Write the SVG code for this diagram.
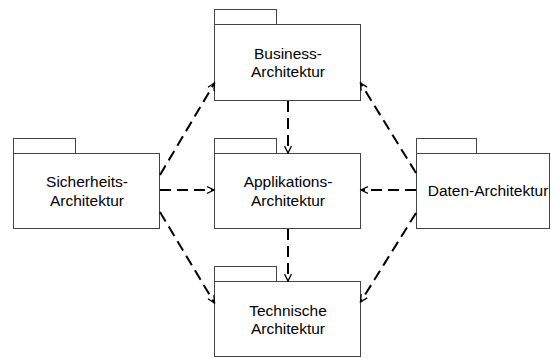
<svg xmlns="http://www.w3.org/2000/svg" width="551" height="358" viewBox="0 0 551 358">
<defs>
<style>
.box{fill:#fff;stroke:#444;stroke-width:1}
.lbl{font-family:"Liberation Sans",Arial,sans-serif;font-size:15.5px;fill:#000;text-anchor:middle}
.dep{stroke:#000;stroke-width:2;stroke-dasharray:11,6;fill:none;marker-end:url(#arr)}
</style>
<marker id="arr" markerUnits="userSpaceOnUse" markerWidth="10" markerHeight="10" refX="7" refY="4" orient="auto" viewBox="0 0 10 8">
<path d="M0,0.5 L7,4 L0,7.5" fill="none" stroke="#000" stroke-width="1.3"/>
</marker>
</defs>
<rect width="551" height="358" fill="#fff"/>
<g id="business">
<rect class="box" x="214.5" y="9.5" width="62" height="15"/>
<rect class="box" x="214.5" y="24.5" width="146" height="76"/>
<text class="lbl" x="288" y="59">Business-</text>
<text class="lbl" x="288" y="77">Architektur</text>
</g>
<g id="sicherheit">
<rect class="box" x="13.5" y="138.5" width="62" height="15"/>
<rect class="box" x="13.5" y="153.5" width="146" height="75"/>
<text class="lbl" x="87" y="187">Sicherheits-</text>
<text class="lbl" x="87" y="206">Architektur</text>
</g>
<g id="applikation">
<rect class="box" x="214.5" y="138.5" width="62" height="15"/>
<rect class="box" x="214.5" y="153.5" width="146" height="75"/>
<text class="lbl" x="288" y="187">Applikations-</text>
<text class="lbl" x="288" y="206">Architektur</text>
</g>
<g id="daten">
<rect class="box" x="416.5" y="138.5" width="60" height="15"/>
<rect class="box" x="416.5" y="153.5" width="133" height="75"/>
<text class="lbl" x="488" y="196">Daten-Architektur</text>
</g>
<g id="technik">
<rect class="box" x="214.5" y="266.5" width="62" height="15"/>
<rect class="box" x="214.5" y="281.5" width="146" height="75"/>
<text class="lbl" x="288" y="316">Technische</text>
<text class="lbl" x="288" y="334">Architektur</text>
</g>
<g id="connectors">
<line class="dep" x1="288" y1="101" x2="288" y2="153"/>
<line class="dep" x1="288" y1="229" x2="288" y2="281"/>
<line class="dep" x1="160" y1="190" x2="214" y2="190"/>
<line class="dep" x1="416" y1="190" x2="361" y2="190"/>
<line class="dep" x1="160" y1="175" x2="214.5" y2="83"/>
<line class="dep" x1="160" y1="212" x2="214.5" y2="303"/>
<line class="dep" x1="416" y1="173" x2="360.5" y2="83"/>
<line class="dep" x1="416" y1="213" x2="360.5" y2="302"/>
</g>
</svg>
